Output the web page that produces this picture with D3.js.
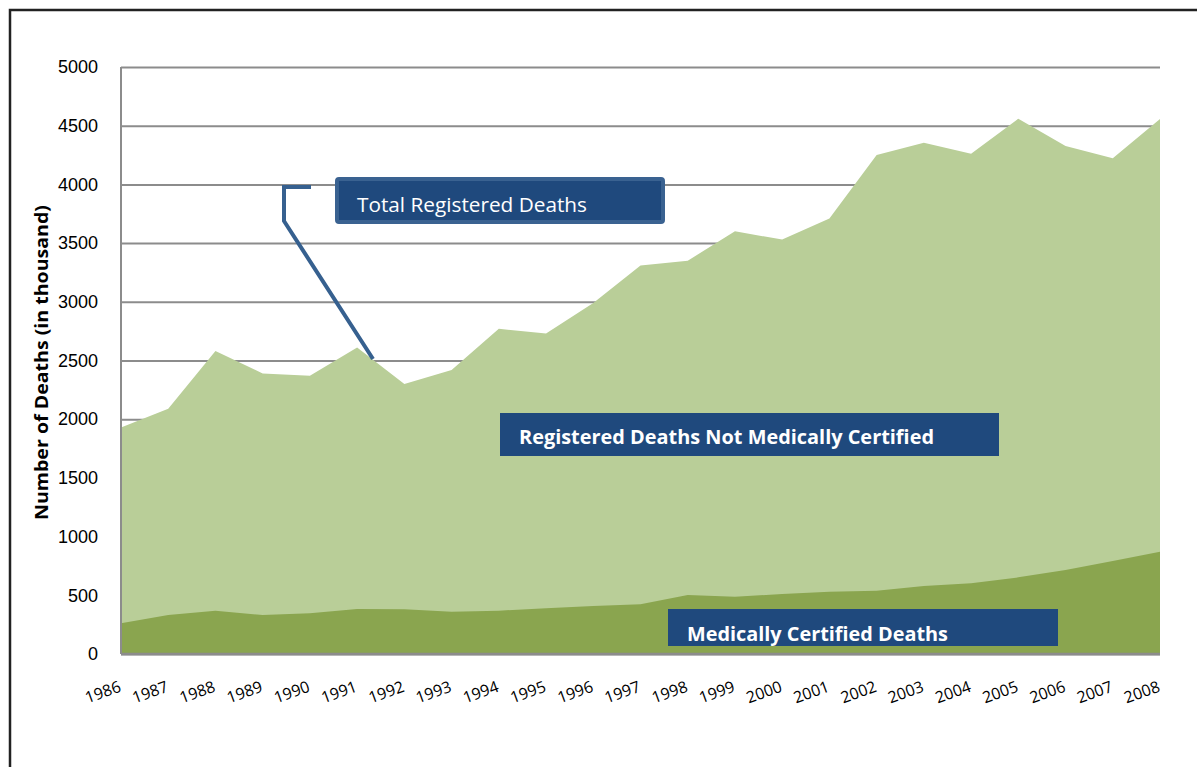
<!DOCTYPE html>
<html>
<head>
<meta charset="utf-8">
<script src="https://cdn.jsdelivr.net/npm/d3@7"></script>
<style>
  body { margin: 0; background: #fff; }
  svg { display: block; }
</style>
</head>
<body>
<div id="viz"></div>
<script>
// values (thousand deaths)
const years = d3.range(1986, 2009);
const totalDeaths = [1930, 2090, 2580, 2390, 2370, 2610, 2300, 2420, 2770, 2730, 2990, 3310,
  3350, 3600, 3530, 3710, 4250, 4355, 4262, 4560, 4328, 4222, 4558];
const certifiedDeaths = [262, 332, 369, 332, 347, 383, 381, 360, 369, 389, 409, 423,
  503, 488, 511, 531, 539, 580, 602, 653, 715, 792, 871];
const yTicks = [0, 500, 1000, 1500, 2000, 2500, 3000, 3500, 4000, 4500, 5000];

const width = 1197, height = 767;
const margin = {top: 67, right: 37, bottom: 113, left: 121};

const data = years.map((yr, i) => ({year: yr, total: totalDeaths[i], certified: certifiedDeaths[i]}));

const x = d3.scaleLinear().domain([1986, 2008]).range([margin.left, width - margin.right]);
const y = d3.scaleLinear().domain([0, 5000]).range([height - margin.bottom, margin.top]);

const svg = d3.select("#viz")
  .append("svg")
  .attr("width", width)
  .attr("height", height)
  .style("font-family", "'Open Sans', sans-serif");

// outer frame
svg.append("rect")
  .attr("x", 10).attr("y", 10)
  .attr("width", 1300).attr("height", 900)
  .attr("fill", "none")
  .attr("stroke", "#222")
  .attr("stroke-width", 2.5);

// gridlines + y labels
const yAxis = svg.append("g")
  .attr("transform", `translate(${margin.left},0)`)
  .call(d3.axisLeft(y).tickValues(yTicks).tickSize(-(width - margin.left - margin.right)).tickPadding(23).tickFormat(d3.format("d")))
  .call(g => {
    g.select(".domain").remove();
    g.selectAll(".tick line").attr("stroke", "#8c8c8c").attr("stroke-width", 2);
    g.selectAll(".tick text").attr("fill", "#000").style("font-size", "18px");
  });

// areas
const areaTotal = d3.area()
  .x(d => x(d.year))
  .y0(y(0))
  .y1(d => y(d.total));

const areaCert = d3.area()
  .x(d => x(d.year))
  .y0(y(0))
  .y1(d => y(d.certified));

svg.append("path")
  .datum(data)
  .attr("d", areaTotal)
  .attr("fill", "#b9ce98");

svg.append("path")
  .datum(data)
  .attr("d", areaCert)
  .attr("fill", "#8aa54f");

// axis lines
svg.append("line")
  .attr("x1", margin.left).attr("x2", margin.left)
  .attr("y1", y(5000)).attr("y2", y(0))
  .attr("stroke", "#8c8c8c").attr("stroke-width", 2);

svg.append("line")
  .attr("x1", margin.left).attr("x2", width - margin.right)
  .attr("y1", y(0)).attr("y2", y(0))
  .attr("stroke", "#8c8c8c").attr("stroke-width", 2.5);

// x labels, rotated
svg.append("g")
  .selectAll("text")
  .data(years)
  .join("text")
  .attr("transform", d => `translate(${x(d) + 1},${y(0) + 37}) rotate(-20)`)
  .attr("text-anchor", "end")
  .style("font-size", "16px")
  .attr("fill", "#000")
  .text(d => d);

// y axis title
svg.append("text")
  .attr("transform", `translate(48,${(205 + 520) / 2}) rotate(-90)`)
  .attr("text-anchor", "middle")
  .style("font-size", "18px")
  .style("font-weight", "bold")
  .attr("textLength", 315)
  .attr("lengthAdjust", "spacingAndGlyphs")
  .text("Number of Deaths (in thousand)");

// callout: Total Registered Deaths
svg.append("path")
  .attr("d", d3.line()([[311, 187], [284, 187], [284, 221], [373, 359]]))
  .attr("fill", "none")
  .attr("stroke", "#36608f")
  .attr("stroke-width", 4);

svg.append("rect")
  .attr("x", 337).attr("y", 179)
  .attr("width", 326).attr("height", 43)
  .attr("rx", 2)
  .attr("fill", "#1f497d")
  .attr("stroke", "#3a6291")
  .attr("stroke-width", 4);

svg.append("text")
  .attr("x", 357).attr("y", 212)
  .attr("fill", "#fff")
  .style("font-size", "20px")
  .attr("textLength", 230)
  .attr("lengthAdjust", "spacingAndGlyphs")
  .text("Total Registered Deaths");

// label boxes
const boxes = [
  {label: "Registered Deaths Not Medically Certified", x0: 500, x1: 999, y0: 413, y1: 456, tx: 519, ty: 444, tw: 415},
  {label: "Medically Certified Deaths", x0: 668, x1: 1058, y0: 609, y1: 646, tx: 687, ty: 641, tw: 261}
];

svg.append("g")
  .selectAll("rect")
  .data(boxes)
  .join("rect")
  .attr("x", d => d.x0).attr("y", d => d.y0)
  .attr("width", d => d.x1 - d.x0).attr("height", d => d.y1 - d.y0)
  .attr("fill", "#1f497d");

svg.append("g")
  .selectAll("text")
  .data(boxes)
  .join("text")
  .attr("x", d => d.tx).attr("y", d => d.ty)
  .attr("fill", "#fff")
  .style("font-size", "19px")
  .style("font-weight", "bold")
  .attr("textLength", d => d.tw)
  .attr("lengthAdjust", "spacingAndGlyphs")
  .text(d => d.label);
</script>
</body>
</html>
